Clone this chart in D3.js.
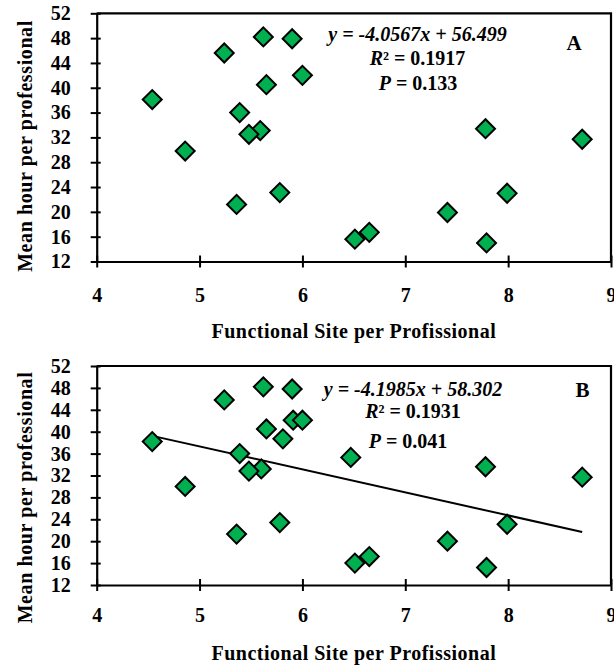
<!DOCTYPE html>
<html>
<head>
<meta charset="utf-8">
<script src="https://cdn.jsdelivr.net/npm/d3@7"></script>
<style>
    body { margin: 0; background: #fff; }
    svg { display: block; }
</style>
</head>
<body>
<div class="chartContainer"></div>
<script>
// Values
const xTicks = [4, 5, 6, 7, 8, 9];
const yTicks = [12, 16, 20, 24, 28, 32, 36, 40, 44, 48, 52];

const siteA = [4.54, 4.86, 5.24, 5.62, 5.90, 6.00, 5.65, 5.39, 5.59, 5.48, 5.36, 5.78, 7.78, 8.72, 7.99, 7.41, 6.51, 6.65, 7.79];
const hourA = [38.1, 29.8, 45.6, 48.2, 47.9, 42.0, 40.5, 36.0, 33.1, 32.5, 21.2, 23.1, 33.4, 31.7, 23.0, 19.9, 15.6, 16.7, 15.0];

const siteB = [4.54, 4.86, 5.24, 5.62, 5.90, 5.91, 6.00, 5.65, 5.81, 5.39, 5.60, 5.48, 5.36, 5.78, 6.47, 7.78, 8.72, 7.99, 7.41, 6.51, 6.65, 7.79];
const hourB = [38.2, 30.0, 45.8, 48.2, 47.8, 42.1, 42.1, 40.5, 38.7, 36.0, 33.2, 32.8, 21.3, 23.4, 35.3, 33.6, 31.7, 23.1, 20.0, 16.0, 17.2, 15.2];

const fitB = { slope: -4.1985, intercept: 58.302 };

const statsA = { eq: "y = -4.0567x + 56.499", r2: "0.1917", p: "0.133", label: "A" };
const statsB = { eq: "y = -4.1985x + 58.302", r2: "0.1931", p: "0.041", label: "B" };

const xTitle = "Functional Site per Profissional";
const yTitle = "Mean hour per professional";

const width = 614;
const height = 668;
const left = 96.7;
const right = 611;
const serif = "'Liberation Serif', 'DejaVu Serif', 'Times New Roman', serif";

const svg = d3.select(".chartContainer").append("svg")
    .attr("width", width)
    .attr("height", height)
    .style("font-family", serif)
    .style("font-weight", "bold");

function addText(g) {
    return g.append("text")
        .style("font-family", serif)
        .style("font-weight", "bold")
        .style("font-size", "20px")
        .attr("fill", "#000");
}

function drawPanel(p) {
    const g = svg.append("g");

    const x = d3.scaleLinear().domain([4, 9]).range([left, right]);
    const y = d3.scaleLinear().domain([12, 52]).range([p.bottom, p.top]);

    // frame (top + right)
    g.append("path")
        .attr("d", `M${left},${p.top}H${right}V${p.bottom}`)
        .attr("fill", "none")
        .attr("stroke", "#000")
        .attr("stroke-width", 2.2);

    // x axis
    const xAxis = g.append("g")
        .attr("transform", `translate(0,${p.bottom})`)
        .call(d3.axisBottom(x).tickValues(xTicks).tickFormat(d3.format("d")).tickSizeOuter(0))
        .attr("font-family", null)
        .attr("font-size", null);
    xAxis.select(".domain").attr("stroke-width", 2.2);
    xAxis.selectAll(".tick line").attr("y1", -6).attr("y2", 6).attr("stroke-width", 2);
    xAxis.selectAll(".tick text")
        .attr("y", p.xLabelOffset)
        .attr("dy", 0);

    // y axis
    const yAxis = g.append("g")
        .attr("transform", `translate(${left},0)`)
        .call(d3.axisLeft(y).tickValues(yTicks).tickSizeOuter(0))
        .attr("font-family", null)
        .attr("font-size", null);
    yAxis.select(".domain").attr("stroke-width", 2.2);
    yAxis.selectAll(".tick line").attr("x1", -6).attr("x2", 4).attr("stroke-width", 2);
    yAxis.selectAll(".tick text").attr("x", -26);

    g.selectAll(".tick text")
        .attr("fill", "#000")
        .style("font-family", serif)
        .style("font-weight", "bold")
        .style("font-size", "20px");

    // titles
    addText(g)
        .attr("x", (left + right) / 2)
        .attr("y", p.xTitleY)
        .attr("text-anchor", "middle")
        .style("letter-spacing", "0.5px")
        .text(xTitle);

    addText(g)
        .attr("transform", `translate(31.5,${p.yTitleY}) rotate(-90)`)
        .attr("text-anchor", "middle")
        .style("letter-spacing", "0.6px")
        .text(yTitle);

    // regression line
    if (p.fit) {
        const [x0, x1] = d3.extent(p.xs);
        g.append("line")
            .attr("x1", x(x0))
            .attr("y1", y(p.fit.slope * x0 + p.fit.intercept))
            .attr("x2", x(x1))
            .attr("y2", y(p.fit.slope * x1 + p.fit.intercept))
            .attr("stroke", "#000")
            .attr("stroke-width", 2);
    }

    // points
    const points = p.xs.map((v, i) => ({ x: v, y: p.ys[i] }));
    g.append("g")
        .selectAll("path")
        .data(points)
        .join("path")
        .attr("d", d3.symbol(d3.symbolSquare, 180))
        .attr("transform", d => `translate(${x(d.x)},${y(d.y)}) rotate(45)`)
        .attr("fill", "#00b050")
        .attr("stroke", "#000")
        .attr("stroke-width", 2);

    // stats
    const s = p.stats;
    addText(g)
        .attr("x", p.statX)
        .attr("y", p.eqY)
        .attr("text-anchor", "middle")
        .style("font-style", "italic")
        .text(s.eq);

    const r2 = addText(g)
        .attr("x", p.statX)
        .attr("y", p.r2Y)
        .attr("text-anchor", "middle");
    r2.append("tspan").style("font-style", "italic").text("R");
    r2.append("tspan").text(`\u00b2 = ${s.r2}`);

    const pv = addText(g)
        .attr("x", p.pX)
        .attr("y", p.pY)
        .attr("text-anchor", "middle");
    pv.append("tspan").style("font-style", "italic").text("P");
    pv.append("tspan").text(` = ${s.p}`);

    addText(g)
        .attr("x", p.labelX)
        .attr("y", p.labelY)
        .attr("text-anchor", "middle")
        .style("font-size", "21px")
        .text(s.label);
}

drawPanel({
    top: 13.3, bottom: 261.5,
    xs: siteA, ys: hourA, fit: null, stats: statsA,
    xLabelOffset: 40, xTitleY: 338, yTitleY: 146,
    statX: 417.5, eqY: 40.5, r2Y: 65, pX: 418, pY: 90,
    labelX: 574, labelY: 50
});

drawPanel({
    top: 366, bottom: 585,
    xs: siteB, ys: hourB, fit: fitB, stats: statsB,
    xLabelOffset: 36.5, xTitleY: 660, yTitleY: 497.5,
    statX: 413, eqY: 396, r2Y: 418, pX: 408, pY: 448,
    labelX: 582.5, labelY: 396.5
});
</script>
</body>
</html>
